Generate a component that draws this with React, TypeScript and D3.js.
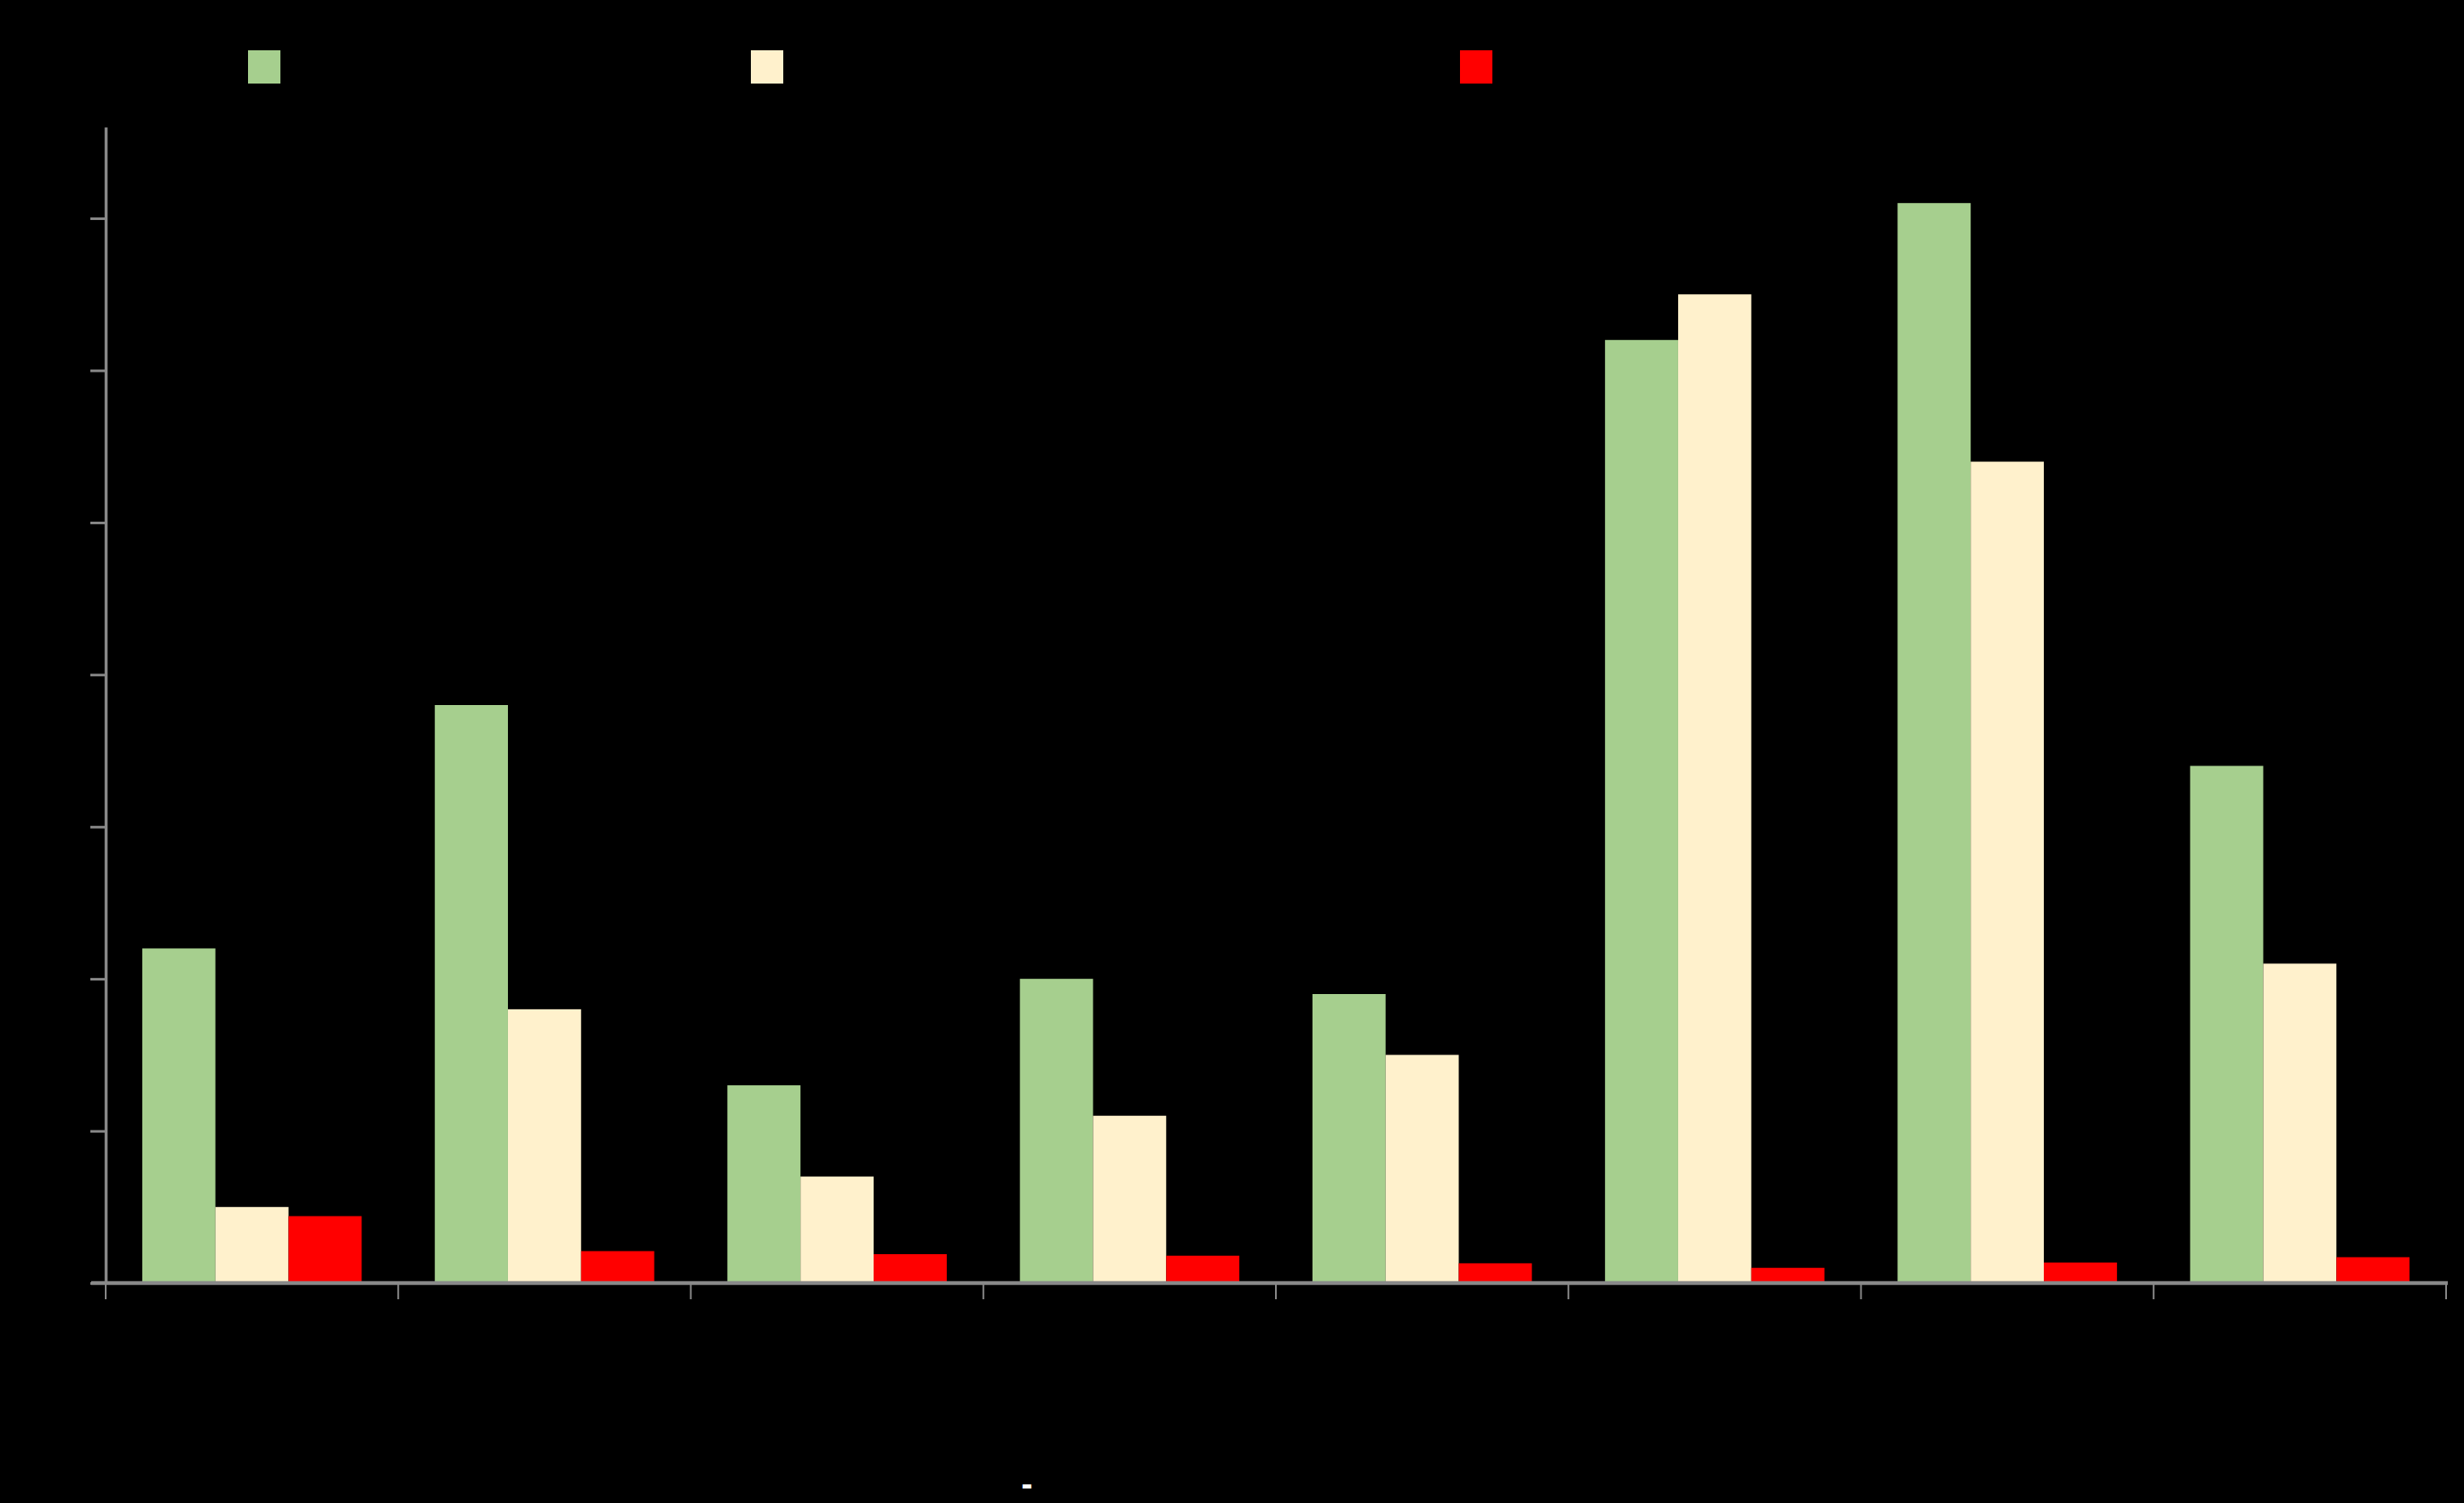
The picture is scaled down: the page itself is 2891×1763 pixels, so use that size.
import { useEffect, useRef } from "react";
import * as d3 from "d3";

// Chart data (text is black on black in the source, so labels are placeholders)
const categories = ["Cat 1", "Cat 2", "Cat 3", "Cat 4", "Cat 5", "Cat 6", "Cat 7", "Cat 8"];
const seriesNames = ["Series 1", "Series 2", "Series 3"];
const greenValues = [22, 38, 13, 20, 19, 62, 71, 34];
const creamValues = [5, 18, 7, 11, 15, 65, 54, 21];
const redValues = [4.4, 2.1, 1.9, 1.8, 1.3, 1.0, 1.35, 1.7];
const yTicks = [0, 10, 20, 30, 40, 50, 60, 70];
const yMax = 76;

const COLORS = ["#a6cf8e", "#fff1cc", "#ff0000"];
const AXIS_COLOR = "#898989";

const CONFIG = {
  WIDTH: 2891,
  HEIGHT: 1763,
  LEFT: 124,
  RIGHT: 2870,
  TOP: 149,
  BASELINE: 1505,
  LEGEND_X: [291, 881, 1713],
  LEGEND_Y: 59,
  LEGEND_SIZE: 38,
} as const;

export default function App() {
  const svgRef = useRef<SVGSVGElement>(null);

  useEffect(() => {
    document.body.style.margin = "0";
    document.body.style.background = "#000";
    if (!svgRef.current) return;

    const svg = d3.select(svgRef.current);
    svg.selectAll("*").remove();

    const { LEFT, RIGHT, TOP, BASELINE } = CONFIG;

    svg
      .append("rect")
      .attr("width", CONFIG.WIDTH)
      .attr("height", CONFIG.HEIGHT)
      .attr("fill", "#000");

    const x0 = d3
      .scaleBand<string>()
      .domain(categories)
      .range([LEFT, RIGHT])
      .paddingInner(0.25)
      .paddingOuter(0.125);

    const x1 = d3
      .scaleBand<number>()
      .domain([0, 1, 2])
      .range([0, x0.bandwidth()]);

    const y = d3.scaleLinear().domain([0, yMax]).range([BASELINE, TOP]);

    const series = [greenValues, creamValues, redValues];

    // Bars
    series.forEach((vals, si) => {
      svg
        .append("g")
        .selectAll("rect")
        .data(vals)
        .enter()
        .append("rect")
        .attr("x", (_, i) => (x0(categories[i]) ?? 0) + (x1(si) ?? 0))
        .attr("y", (d) => y(d))
        .attr("width", x1.bandwidth())
        .attr("height", (d) => y(0) - y(d))
        .attr("fill", COLORS[si]);
    });

    // Y axis
    const yAxis = d3
      .axisLeft(y)
      .tickValues(yTicks)
      .tickSize(18)
      .tickPadding(10)
      .tickSizeOuter(0)
      .tickFormat((d) => String(d));

    const yg = svg
      .append("g")
      .attr("transform", `translate(${LEFT},0)`)
      .call(yAxis);
    yg.select(".domain").attr("stroke", AXIS_COLOR).attr("stroke-width", 3.5);
    yg.selectAll(".tick line").attr("stroke", AXIS_COLOR).attr("stroke-width", 3);
    yg.selectAll(".tick text")
      .attr("fill", "#000")
      .attr("font-family", "Liberation Sans, Arial, sans-serif")
      .attr("font-size", 30);

    // X axis line and boundary ticks
    svg
      .append("line")
      .attr("x1", LEFT - 17)
      .attr("x2", RIGHT + 2)
      .attr("y1", BASELINE)
      .attr("y2", BASELINE)
      .attr("stroke", AXIS_COLOR)
      .attr("stroke-width", 4.5);

    const bounds = d3.range(categories.length + 1).map((i) => LEFT + i * x0.step());
    svg
      .append("g")
      .selectAll("line")
      .data(bounds)
      .enter()
      .append("line")
      .attr("x1", (d) => d)
      .attr("x2", (d) => d)
      .attr("y1", BASELINE)
      .attr("y2", BASELINE + 19)
      .attr("stroke", AXIS_COLOR)
      .attr("stroke-width", 2);

    // Category labels (black, as in the source)
    svg
      .append("g")
      .selectAll("text")
      .data(categories)
      .enter()
      .append("text")
      .attr("x", (d) => (x0(d) ?? 0) + x0.bandwidth() / 2)
      .attr("y", BASELINE + 60)
      .attr("text-anchor", "middle")
      .attr("fill", "#000")
      .attr("font-family", "Liberation Sans, Arial, sans-serif")
      .attr("font-size", 30)
      .text((d) => d);

    // Axis title fragment: only the dash shows up in white
    svg
      .append("text")
      .attr("x", 1205)
      .attr("y", 1754)
      .attr("text-anchor", "middle")
      .attr("fill", "#fff")
      .attr("font-family", "Liberation Sans, Arial, sans-serif")
      .attr("font-weight", "bold")
      .attr("font-size", 40)
      .text("-");

    // Legend
    const legend = svg.append("g");
    seriesNames.forEach((name, i) => {
      legend
        .append("rect")
        .attr("x", CONFIG.LEGEND_X[i])
        .attr("y", CONFIG.LEGEND_Y)
        .attr("width", CONFIG.LEGEND_SIZE)
        .attr("height", CONFIG.LEGEND_SIZE + 1)
        .attr("fill", COLORS[i]);
      legend
        .append("text")
        .attr("x", CONFIG.LEGEND_X[i] + CONFIG.LEGEND_SIZE + 14)
        .attr("y", CONFIG.LEGEND_Y + 30)
        .attr("fill", "#000")
        .attr("font-family", "Liberation Sans, Arial, sans-serif")
        .attr("font-size", 30)
        .text(name);
    });
  }, []);

  return (
    <svg
      ref={svgRef}
      width={CONFIG.WIDTH}
      height={CONFIG.HEIGHT}
      style={{ display: "block" }}
    />
  );
}
